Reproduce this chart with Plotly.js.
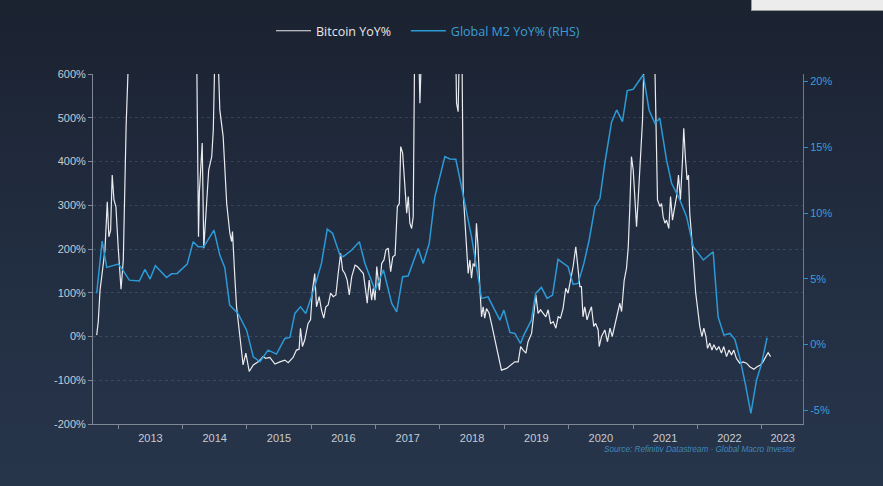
<!DOCTYPE html>
<html>
<head>
<meta charset="utf-8">
<script src="https://cdn.plot.ly/plotly-3.0.1.min.js"></script>
<style>
  html, body { margin: 0; padding: 0; }
  body {
    width: 883px; height: 486px; overflow: hidden; position: relative;
    background: linear-gradient(to bottom, #1b2230 0%, #212c3f 45%, #27354b 100%);
  }
  #chart { width: 883px; height: 486px; position: absolute; left: 0; top: 0; }
  #strip { position: absolute; left: 751px; top: 0; width: 132px; height: 10px;
           background: #ececec; border-bottom: 1px solid #9a9a9a; border-left: 1px solid #9a9a9a; }
</style>
</head>
<body>
<div id="chart"></div>
<div id="strip"></div>
<script>
// ---- Bitcoin YoY% (left axis) ----
const btcDates = [
  "2012-08-31","2012-09-09","2012-09-19","2012-10-04","2012-10-17","2012-10-30","2012-11-08","2012-11-18",
  "2012-11-27","2012-12-07","2012-12-18","2013-01-01","2013-01-16","2013-01-29","2013-02-14","2013-02-26",
  "2013-03-10","2013-04-10","2013-06-15","2013-09-01","2013-11-20","2014-01-15","2014-03-01","2014-03-20",
  "2014-04-01","2014-04-06","2014-04-22","2014-05-01","2014-05-17","2014-05-29","2014-06-15","2014-06-24",
  "2014-07-03","2014-07-18","2014-07-31","2014-08-19","2014-09-08","2014-09-26","2014-10-06","2014-10-11",
  "2014-10-24","2014-11-03","2014-11-22","2014-12-10","2014-12-26","2015-01-14","2015-02-06","2015-03-06",
  "2015-04-03","2015-04-18","2015-05-11","2015-06-09","2015-07-07","2015-08-04","2015-08-23","2015-09-20",
  "2015-10-09","2015-10-24","2015-11-01","2015-11-12","2015-11-25","2015-12-14","2015-12-28","2016-01-08",
  "2016-01-21","2016-01-31","2016-02-15","2016-02-28","2016-03-12","2016-03-24","2016-04-06","2016-04-20",
  "2016-05-05","2016-05-20","2016-06-02","2016-06-16","2016-06-27","2016-07-10","2016-07-23","2016-08-04",
  "2016-08-18","2016-09-06","2016-09-19","2016-10-08","2016-10-23","2016-11-07","2016-11-14","2016-11-25",
  "2016-12-09","2016-12-18","2016-12-28","2017-01-07","2017-01-22","2017-02-04","2017-02-17","2017-02-28",
  "2017-03-13","2017-03-27","2017-04-08","2017-04-21","2017-05-04","2017-05-15","2017-05-23","2017-06-03",
  "2017-06-16","2017-06-26","2017-07-05","2017-07-14","2017-07-24","2017-08-02","2017-08-11","2017-08-20",
  "2017-09-09","2017-09-20","2017-10-15","2017-12-15","2018-02-15","2018-03-26","2018-04-05","2018-04-14",
  "2018-04-23","2018-05-06","2018-05-13","2018-05-22","2018-06-01","2018-06-10","2018-06-20","2018-06-29",
  "2018-07-08","2018-07-18","2018-07-27","2018-08-05","2018-08-15","2018-08-25","2018-09-03","2018-09-12",
  "2018-09-22","2018-10-07","2018-10-20","2018-11-08","2018-11-27","2018-12-16","2019-01-14","2019-02-12",
  "2019-03-02","2019-03-21","2019-04-04","2019-04-18","2019-05-04","2019-05-16","2019-06-05","2019-06-18",
  "2019-06-29","2019-07-12","2019-07-26","2019-08-10","2019-08-25","2019-09-07","2019-09-21","2019-10-06",
  "2019-10-21","2019-11-03","2019-11-16","2019-12-01","2019-12-16","2019-12-29","2020-01-12","2020-01-27",
  "2020-02-11","2020-02-24","2020-03-05","2020-03-14","2020-03-23","2020-04-02","2020-04-15","2020-04-26",
  "2020-05-10","2020-05-23","2020-06-03","2020-06-17","2020-06-23","2020-07-06","2020-07-25","2020-08-09",
  "2020-08-23","2020-09-05","2020-09-20","2020-10-05","2020-10-18","2020-10-28","2020-11-12","2020-11-25",
  "2020-12-05","2020-12-14","2020-12-23","2021-01-02","2021-01-12","2021-01-21","2021-01-30","2021-02-12",
  "2021-02-24","2021-03-05","2021-03-20","2021-05-01","2021-05-11","2021-05-20","2021-06-03","2021-06-12",
  "2021-06-21","2021-07-01","2021-07-10","2021-07-23","2021-08-02","2021-08-13","2021-08-26","2021-09-05",
  "2021-09-16","2021-09-27","2021-10-09","2021-10-16","2021-10-26","2021-11-04","2021-11-12","2021-11-19",
  "2021-12-01","2021-12-12","2021-12-23","2022-01-06","2022-01-15","2022-01-27","2022-02-07","2022-02-19",
  "2022-02-28","2022-03-13","2022-03-25","2022-04-05","2022-04-20","2022-05-03","2022-05-18","2022-05-31",
  "2022-06-16","2022-06-30","2022-07-14","2022-07-27","2022-08-11","2022-08-30","2022-09-18","2022-10-07",
  "2022-10-26","2022-11-18","2022-12-06","2022-12-25","2023-01-09","2023-01-25","2023-02-07","2023-02-21"
];
const btcValues = [
  3,34,106,160,198,308,228,243,
  369,312,297,198,108,175,480,620,
  1200,2500,1500,1000,5000,4000,1500,800,
  228,330,442,202,312,381,411,472,
  650,680,518,457,304,236,217,240,
  137,68,0,-65,-38,-80,-65,-58,
  -46,-50,-48,-63,-58,-54,-60,-48,
  -31,-29,19,-23,-8,30,38,106,
  144,68,91,61,42,68,72,99,
  91,95,144,190,152,144,129,95,
  137,163,160,152,144,99,76,129,
  83,110,83,160,106,167,175,198,
  202,148,182,186,297,304,434,419,
  327,282,320,259,247,274,700,900,
  533,800,1000,1800,900,800,533,514,
  700,640,327,266,205,144,175,133,
  167,160,259,205,114,45,68,42,
  64,53,30,-8,-38,-77,-73,-65,
  -58,-58,-23,-31,-38,-12,7,53,
  95,53,61,53,45,61,30,34,
  19,45,42,64,110,99,129,160,
  205,152,114,114,45,68,38,53,
  68,23,30,15,-23,0,15,-12,
  19,0,26,53,76,57,129,156,
  205,297,411,381,312,251,312,396,
  495,650,900,700,442,312,297,304,
  274,259,266,247,320,266,297,320,
  369,312,404,476,404,358,369,282,
  221,160,99,53,23,0,19,0,
  -27,-15,-31,-19,-31,-23,-38,-23,
  -46,-31,-42,-31,-50,-61,-58,-61,
  -69,-75,-69,-65,-58,-46,-37,-46
];

// ---- Global M2 YoY% (right axis) ----
const m2Dates = [
  "2012-08-31","2012-10-01","2012-10-27","2013-01-01","2013-01-20","2013-03-04","2013-04-30","2013-06-01",
  "2013-06-30","2013-07-30","2013-10-02","2013-10-30","2013-12-01","2014-01-27","2014-03-02","2014-03-30",
  "2014-05-01","2014-06-28","2014-07-31","2014-08-28","2014-09-25","2014-11-11","2014-12-30","2015-02-06",
  "2015-03-16","2015-05-01","2015-06-18","2015-08-04","2015-09-02","2015-09-30","2015-11-01","2015-12-01",
  "2016-01-21","2016-02-28","2016-04-01","2016-05-01","2016-06-12","2016-07-01","2016-08-18","2016-09-30",
  "2016-11-01","2016-12-09","2016-12-28","2017-02-14","2017-04-02","2017-04-30","2017-06-03","2017-07-04",
  "2017-08-30","2017-09-28","2017-11-01","2017-12-03","2018-01-01","2018-01-29","2018-02-26","2018-04-01",
  "2018-05-03","2018-05-27","2018-06-29","2018-07-27","2018-08-25","2018-10-01","2018-12-07","2018-12-30",
  "2019-02-02","2019-03-02","2019-04-03","2019-04-22","2019-06-04","2019-06-28","2019-07-31","2019-09-01",
  "2019-10-02","2019-11-02","2019-11-30","2019-12-29","2020-01-27","2020-02-24","2020-03-28","2020-04-27",
  "2020-05-30","2020-06-27","2020-07-25","2020-09-01","2020-09-30","2020-11-02","2020-11-29","2021-01-02",
  "2021-02-28","2021-04-02","2021-05-05","2021-06-02","2021-07-10","2021-08-08","2021-09-24","2021-11-01",
  "2021-12-09","2022-02-04","2022-04-01","2022-04-29","2022-06-01","2022-07-05","2022-08-02","2022-08-31",
  "2022-10-02","2022-11-01","2022-12-03","2023-01-01","2023-02-01"
];
const m2Values = [
  3.9,7.87,5.87,6.12,5.79,4.9,4.83,5.72,
  4.98,6.0,5.1,5.38,5.41,6.12,7.82,7.44,
  7.44,8.7,6.8,5.87,3.0,2.37,1.1,-0.93,
  -1.3,-0.42,-0.72,0.47,0.55,2.37,2.87,2.37,
  4.4,6.17,8.78,8.46,6.8,6.68,7.19,7.82,
  6.17,4.78,4.14,5.67,3.13,2.49,5.16,5.21,
  7.31,6.17,7.7,11.24,12.7,14.28,14.1,14.08,
  12.0,10.48,8.2,5.92,3.51,3.63,1.86,2.62,
  0.93,0.85,0.09,0.72,1.86,3.89,4.35,3.51,
  3.76,6.48,6.17,5.92,4.58,4.65,6.17,7.95,
  10.48,11.1,13.8,16.9,17.83,16.94,19.3,19.4,
  20.5,17.83,16.82,17.2,14.03,12.26,10.99,9.72,
  7.44,6.43,7.06,2.11,0.72,0.85,0.4,-1.05,
  -3.08,-5.23,-2.7,-1.43,0.52
];

// ---- Axis tick labels ----
const yearLabels = ["2013","2014","2015","2016","2017","2018","2019","2020","2021","2022","2023"];
const yearLabelDates = ["2013-07-02","2014-07-02","2015-07-02","2016-07-02","2017-07-02","2018-07-02",
                        "2019-07-02","2020-07-02","2021-07-02","2022-07-02","2023-05-01"];
const yearStartDates = ["2013-01-01","2014-01-01","2015-01-01","2016-01-01","2017-01-01","2018-01-01",
                        "2019-01-01","2020-01-01","2021-01-01","2022-01-01","2023-01-01"];
const leftTickVals = [-200,-100,0,100,200,300,400,500,600];
const leftTickText = ["-200%","-100%","0%","100%","200%","300%","400%","500%","600%"];
const rightTickVals = [-5,0,5,10,15,20];
const rightTickText = ["-5%","0%","5%","10%","15%","20%"];

const grey = "#7e8795";
const labelGrey = "#c6cbd3";
const blue = "#2b9ad6";
const blueText = "#3a9fd8";

const traces = [
  {
    x: btcDates, y: btcValues, type: "scatter", mode: "lines",
    name: "Bitcoin YoY%&nbsp;&nbsp;&nbsp;", yaxis: "y",
    line: { color: "#e9ebee", width: 1.2 }
  },
  {
    x: m2Dates, y: m2Values, type: "scatter", mode: "lines",
    name: '<span style="color:' + blueText + '">Global M2 YoY% (RHS)</span>', yaxis: "y2",
    line: { color: blue, width: 1.5 }
  }
];

const layout = {
  width: 883, height: 486,
  paper_bgcolor: "rgba(0,0,0,0)",
  plot_bgcolor: "rgba(0,0,0,0)",
  margin: { l: 93, r: 80, t: 74, b: 62 },
  font: { family: "Liberation Sans, Arial, sans-serif", color: labelGrey, size: 11 },
  showlegend: true,
  legend: {
    orientation: "h", xref: "container", yref: "container",
    x: 271 / 883, xanchor: "left", y: 0.936, yanchor: "middle",
    itemwidth: 35,
    font: { family: "Open Sans, Noto Sans, sans-serif", size: 12.5, color: "#e6e8eb" },
    bgcolor: "rgba(0,0,0,0)"
  },
  xaxis: {
    type: "date",
    range: ["2012-08-10", "2023-08-24"],
    tickmode: "array", tickvals: yearLabelDates, ticktext: yearLabels,
    ticks: "", showgrid: false, zeroline: false,
    showline: true, linecolor: grey, linewidth: 1,
    tickfont: { color: labelGrey, size: 11 },
    ticklabelstandoff: 4,
    minor: { tickmode: "array", tickvals: yearStartDates, ticks: "outside", ticklen: 4,
             tickcolor: grey, tickwidth: 1, showgrid: false }
  },
  yaxis: {
    range: [-200, 600],
    tickmode: "array", tickvals: leftTickVals, ticktext: leftTickText,
    showgrid: true, gridcolor: "rgba(200,210,225,0.15)", griddash: "3px,3px", gridwidth: 1,
    zeroline: false, showline: true, linecolor: grey, linewidth: 1,
    ticks: "outside", ticklen: 4, tickcolor: grey,
    tickfont: { color: labelGrey, size: 11 }
  },
  yaxis2: {
    overlaying: "y", side: "right",
    range: [-6.03, 20.56],
    tickmode: "array", tickvals: rightTickVals, ticktext: rightTickText,
    showgrid: false, zeroline: false,
    showline: true, linecolor: "#2f8ec6", linewidth: 1,
    ticks: "outside", ticklen: 4, tickcolor: "#2f8ec6",
    tickfont: { color: blueText, size: 11 }
  },
  annotations: [
    {
      text: "<i>Source: Refinitiv Datastream - Global Macro Investor</i>",
      xref: "paper", yref: "paper", x: 0.993, y: -0.074,
      xanchor: "right", yanchor: "middle", showarrow: false,
      font: { family: "Liberation Sans, Arial, sans-serif", size: 8.2, color: "#3f88bb" }
    }
  ]
};

Plotly.newPlot("chart", traces, layout, { displayModeBar: false, staticPlot: true });
</script>
</body>
</html>
